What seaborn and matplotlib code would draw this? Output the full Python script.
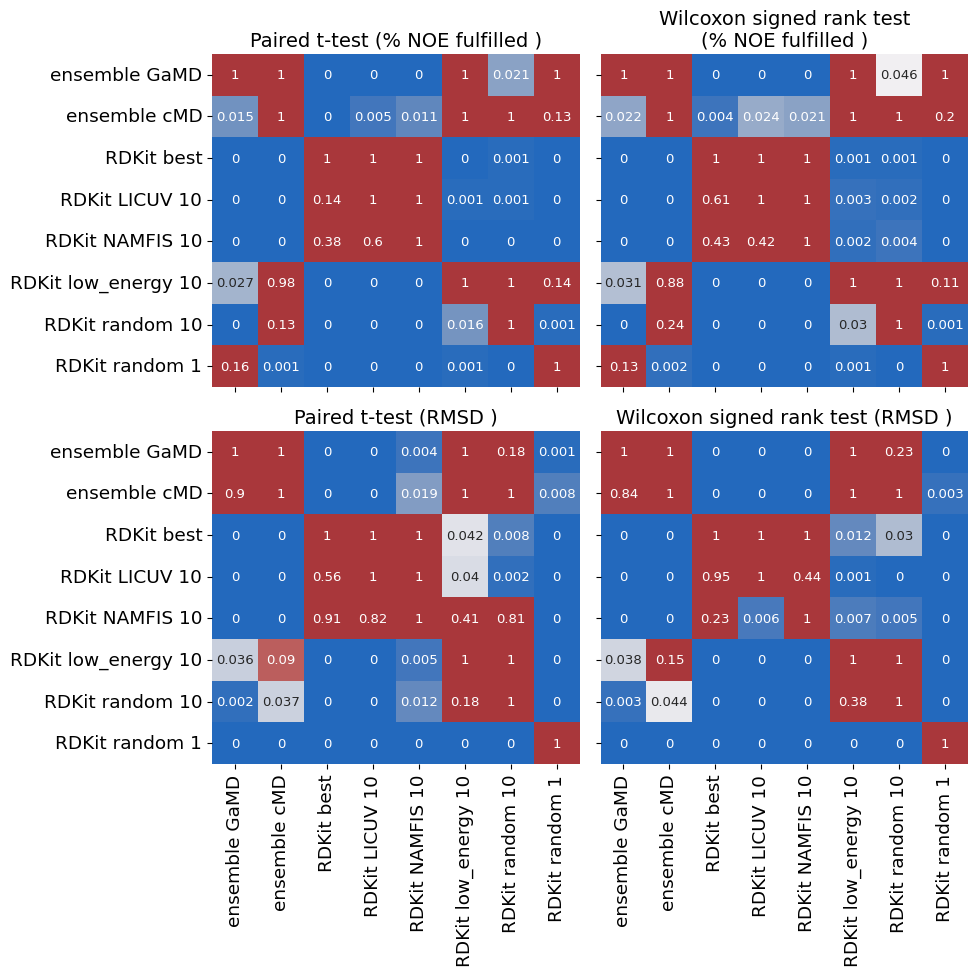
import numpy as np
import matplotlib
matplotlib.use('Agg')
import matplotlib.pyplot as plt
import seaborn as sns

methods = ["ensemble GaMD", "ensemble cMD", "RDKit best", "RDKit LICUV 10",
           "RDKit NAMFIS 10", "RDKit low_energy 10", "RDKit random 10",
           "RDKit random 1"]

# p-values, rows/cols in the order of `methods`
ttest_noe = [
    [1, 1, 0, 0, 0, 1, 0.021, 1],
    [0.015, 1, 0, 0.005, 0.011, 1, 1, 0.13],
    [0, 0, 1, 1, 1, 0, 0.001, 0],
    [0, 0, 0.14, 1, 1, 0.001, 0.001, 0],
    [0, 0, 0.38, 0.6, 1, 0, 0, 0],
    [0.027, 0.98, 0, 0, 0, 1, 1, 0.14],
    [0, 0.13, 0, 0, 0, 0.016, 1, 0.001],
    [0.16, 0.001, 0, 0, 0, 0.001, 0, 1],
]

wilcoxon_noe = [
    [1, 1, 0, 0, 0, 1, 0.046, 1],
    [0.022, 1, 0.004, 0.024, 0.021, 1, 1, 0.2],
    [0, 0, 1, 1, 1, 0.001, 0.001, 0],
    [0, 0, 0.61, 1, 1, 0.003, 0.002, 0],
    [0, 0, 0.43, 0.42, 1, 0.002, 0.004, 0],
    [0.031, 0.88, 0, 0, 0, 1, 1, 0.11],
    [0, 0.24, 0, 0, 0, 0.03, 1, 0.001],
    [0.13, 0.002, 0, 0, 0, 0.001, 0, 1],
]

ttest_rmsd = [
    [1, 1, 0, 0, 0.004, 1, 0.18, 0.001],
    [0.9, 1, 0, 0, 0.019, 1, 1, 0.008],
    [0, 0, 1, 1, 1, 0.042, 0.008, 0],
    [0, 0, 0.56, 1, 1, 0.04, 0.002, 0],
    [0, 0, 0.91, 0.82, 1, 0.41, 0.81, 0],
    [0.036, 0.09, 0, 0, 0.005, 1, 1, 0],
    [0.002, 0.037, 0, 0, 0.012, 0.18, 1, 0],
    [0, 0, 0, 0, 0, 0, 0, 1],
]

wilcoxon_rmsd = [
    [1, 1, 0, 0, 0, 1, 0.23, 0],
    [0.84, 1, 0, 0, 0, 1, 1, 0.003],
    [0, 0, 1, 1, 1, 0.012, 0.03, 0],
    [0, 0, 0.95, 1, 0.44, 0.001, 0, 0],
    [0, 0, 0.23, 0.006, 1, 0.007, 0.005, 0],
    [0.038, 0.15, 0, 0, 0, 1, 1, 0],
    [0.003, 0.044, 0, 0, 0, 0.38, 1, 0],
    [0, 0, 0, 0, 0, 0, 0, 1],
]

titles = ["Paired t-test (% NOE fulfilled )",
          "Wilcoxon signed rank test\n(% NOE fulfilled )",
          "Paired t-test (RMSD )",
          "Wilcoxon signed rank test (RMSD )"]

fig, axes = plt.subplots(2, 2, figsize=(9.78, 9.78), dpi=100,
                         sharex=True, sharey=True)
fig.subplots_adjust(left=0.2168, right=0.9898, top=0.9438, bottom=0.2178,
                    wspace=0.057, hspace=0.132)

for ax, data, title in zip(axes.flat,
                           [ttest_noe, wilcoxon_noe, ttest_rmsd, wilcoxon_rmsd],
                           titles):
    # significance threshold 0.05 sits in the middle of the colormap
    sns.heatmap(np.array(data), ax=ax, cmap='vlag', vmin=0, vmax=0.1,
                annot=True, fmt='g', annot_kws={'fontsize': 9.5},
                cbar=False, xticklabels=methods, yticklabels=methods)
    ax.set_title(title, fontsize=14)
    ax.tick_params(labelsize=13.3)

for ax in axes[1]:
    ax.set_xticklabels(methods, rotation=90, fontsize=13.3)
for ax in axes[:, 0]:
    ax.set_yticklabels(methods, rotation=0, fontsize=13.3)
for ax in axes[:, 1]:
    ax.tick_params(axis='y', labelleft=False)
for ax in axes[0]:
    ax.tick_params(axis='x', labelbottom=False)

plt.savefig('out.png')
plt.close()
